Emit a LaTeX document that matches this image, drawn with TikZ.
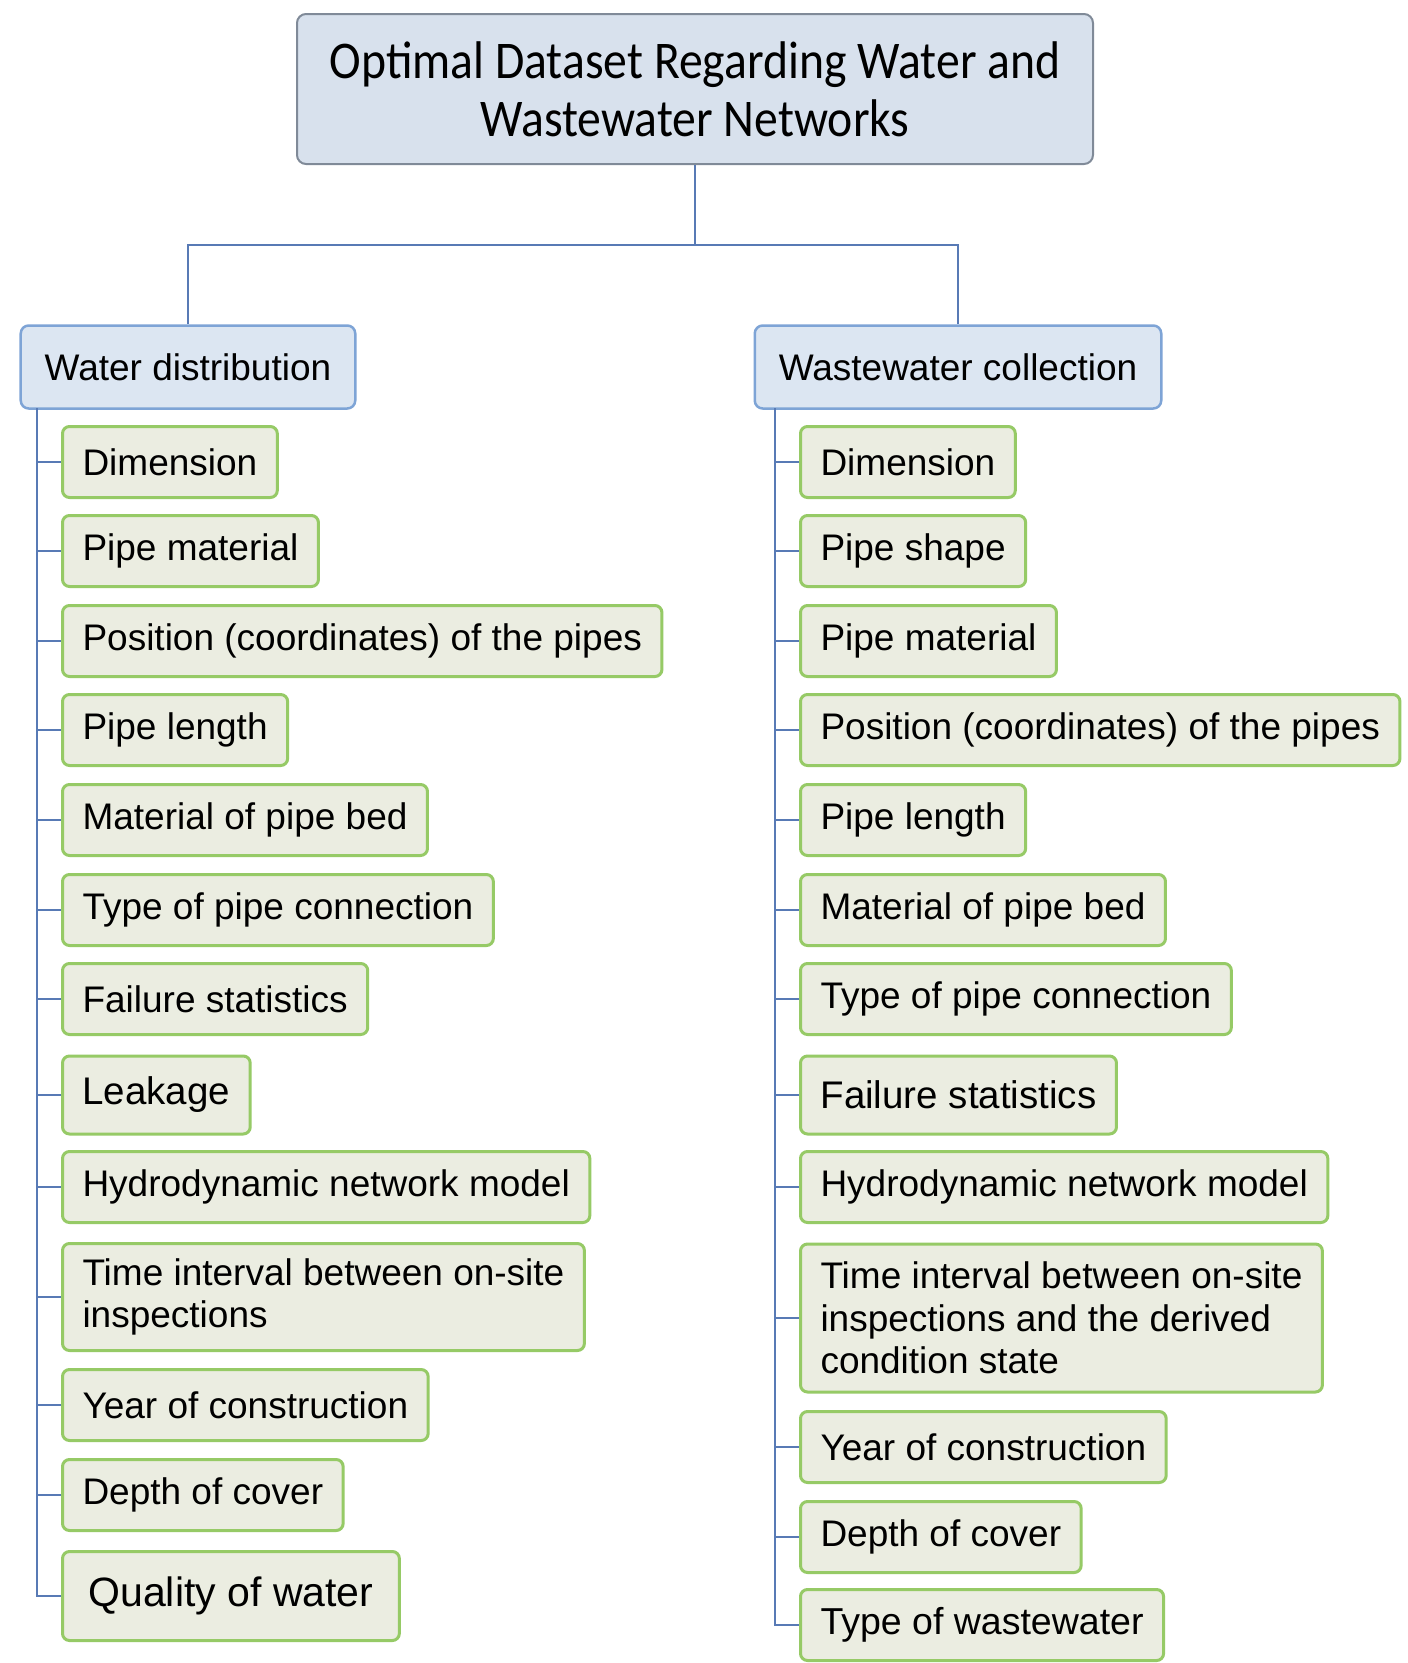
\documentclass[tikz,border=0pt]{standalone}
\usepackage{fontspec}
\setmainfont{Liberation Sans}
\newfontfamily\titlefont[FakeStretch=0.9]{Carlito}
\definecolor{linkblue}{RGB}{88,122,181}
\definecolor{topfill}{RGB}{216,225,237}
\definecolor{topedge}{RGB}{128,138,152}
\definecolor{catfill}{RGB}{220,230,242}
\definecolor{catedge}{RGB}{126,164,214}
\definecolor{itemfill}{RGB}{235,237,225}
\definecolor{itemedge}{RGB}{150,202,102}
\tikzset{
	link/.style={draw=linkblue,line width=2.5pt},
	topbox/.style={draw=topedge,fill=topfill,line width=2pt,rounded corners=9pt,minimum width=796pt,minimum height=150pt,align=center,font=\titlefont\fontsize{53}{58}\selectfont},
	catbox/.style={draw=catedge,fill=catfill,line width=2.5pt,rounded corners=8pt,minimum height=83pt,inner xsep=24pt,font=\fontsize{37}{42}\selectfont},
	itembox/.style={draw=itemedge,fill=itemfill,line width=3pt,rounded corners=7pt,anchor=west,align=left,inner xsep=20pt,inner ysep=11pt}
}
\begin{document}
\begin{tikzpicture}[x=1pt,y=-1pt]
		\useasboundingbox[fill=white] (0,0) rectangle (1408,1663);
		\node[topbox] (top) at (695,89) {Optimal Dataset Regarding Water and\\Wastewater Networks};
		\node[catbox] (wd) at (188,367) {Water distribution};
		\node[catbox] (wc) at (958,367) {Wastewater collection};
		\path
		(695,245) coordinate (fork)
		(37,408) coordinate (wdt)
		(775,408) coordinate (wct);
		\draw[link] (top.south) -- (fork) -| (wd.north);
		\draw[link] (fork) -| (wc.north);
		\foreach \i/\y/\h/\f/\s/\t in {1/462/71/37/20/Dimension,2/551/71/37/20/Pipe material,3/641/71/37/20/Position (coordinates) of the pipes,4/730/71/37/20/Pipe length,5/820/71/37/20/Material of pipe bed,6/910/71/37/20/Type of pipe connection,7/999/71/37/20/Failure statistics,8/1095/78/38.5/20/Leakage,9/1187/71/37/20/Hydrodynamic network model,10/1297/107/37/20/{Time interval between on-site\\inspections},11/1405/71/37/20/Year of construction,12/1495/71/37/20/Depth of cover,13/1596/89/41/26/Quality of water}
		\node[itembox,minimum height=\h pt,inner xsep=\s pt,font=\fontsize{\f}{42.5}\selectfont] (l\i) at (61,\y) {\t};
		\foreach \i/\y/\h/\f/\s/\t in {1/462/71/37/20/Dimension,2/551/71/37/20/Pipe shape,3/641/71/37/20/Pipe material,4/730/71/37/20/Position (coordinates) of the pipes,5/820/71/37/20/Pipe length,6/910/71/37/20/Material of pipe bed,7/999/71/37/20/Type of pipe connection,8/1095/78/38.5/20/Failure statistics,9/1187/71/37/20/Hydrodynamic network model,10/1318/148/37/20/{Time interval between on-site\\inspections and the derived\\condition state},11/1447/71/37/20/Year of construction,12/1537/71/37/20/Depth of cover,13/1625/71/37.5/20/Type of wastewater}
		\node[itembox,minimum height=\h pt,inner xsep=\s pt,font=\fontsize{\f}{42.5}\selectfont] (r\i) at (799,\y) {\t};
		\draw[link] (wdt) |- (l13.west);
		\draw[link] (wct) |- (r13.west);
		\foreach \i in {1,...,12} {
			\draw[link] (wdt |- l\i.west) -- (l\i.west);
			\draw[link] (wct |- r\i.west) -- (r\i.west);
		}
\end{tikzpicture}
\end{document}
